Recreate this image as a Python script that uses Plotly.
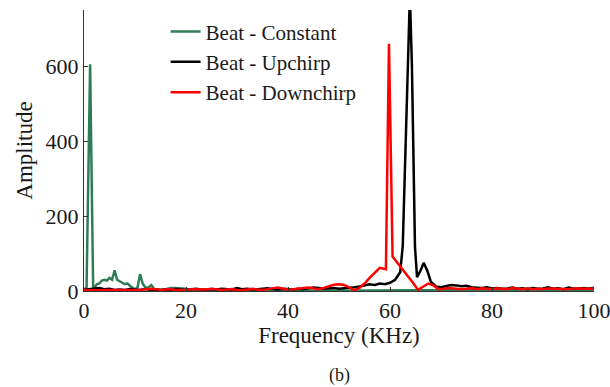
import plotly.graph_objects as go

# ---------------- data ----------------
# Beat - Constant (green)
const_freq = [0, 0.5, 1.2, 1.8, 2.5, 3.0, 3.5, 4.0, 4.5, 5.0, 5.5, 6.0, 6.5, 7.0, 7.5, 8.0,
              8.5, 9.0, 9.5, 10.0, 10.5, 11.0, 11.5, 12.0, 12.5, 13.2, 13.8, 14.5, 15, 16, 17,
              18, 19, 20, 21, 22, 23, 24, 25, 26, 27, 28, 29, 30, 32, 34, 36, 38, 40, 42, 44,
              46, 48, 50, 52, 54, 56, 58, 60, 62, 64, 66, 68, 70, 72, 74, 76, 78, 80, 82, 84,
              86, 88, 90, 92, 94, 96, 98, 100]
const_amp = [5, 8, 605, 4, 18, 20, 28, 30, 28, 35, 30, 55, 30, 25, 22, 18,
             20, 14, 8, 4, 10, 45, 20, 10, 8, 16, 5, 3, 3, 5, 8,
             8, 8, 6, 3, 2, 3, 4, 2, 3, 2, 3, 2, 3, 2, 3, 2, 3, 2, 2, 2,
             1, 1, 1, 1, 1, 1, 1, 1, 1, 1, 1, 2, 2, 3, 4, 3, 2, 2, 2, 2,
             2, 2, 2, 2, 2, 2, 2, 2]

# Beat - Upchirp (black)
up_freq = [0, 1, 2, 3, 4, 5, 6, 7, 8, 9, 10, 11, 12, 13, 14, 15, 16, 17, 18, 19, 20,
           21, 22, 23, 24, 25, 26, 27, 28, 29, 30, 31, 32, 33, 34, 35, 36, 37, 38, 39, 40,
           41, 42, 43, 44, 45, 46, 47, 48, 49, 50, 51, 52, 53, 54, 55, 56, 57, 58, 59, 60,
           61, 62, 62.5, 63.2, 63.9, 64.3, 64.9, 65.3, 66.0, 66.6, 67.3, 68, 69, 70,
           71, 72, 73, 74, 75, 76, 77, 78, 79, 80, 81, 82, 83, 84, 85, 86, 87, 88, 89, 90,
           91, 92, 93, 94, 95, 96, 97, 98, 99, 100]
up_amp = [3, 4, 6, 8, 5, 6, 3, 4, 3, 5, 4, 3, 5, 3, 4, 3, 4, 3, 5, 4, 3,
          5, 6, 4, 3, 5, 4, 6, 5, 4, 8, 5, 6, 4, 5, 6, 7, 5, 4, 6, 5,
          4, 6, 5, 7, 9, 8, 6, 7, 8, 6, 7, 8, 10, 12, 15, 18, 16, 20, 18, 22,
          30, 50, 120, 450, 790, 600, 117, 37, 55, 75, 55, 25, 12, 10,
          14, 16, 15, 13, 14, 10, 9, 8, 10, 7, 8, 6, 7, 9, 6, 7, 5, 8, 6, 7,
          10, 6, 7, 5, 9, 6, 7, 8, 6, 9]

# Beat - Downchirp (red)
down_freq = [0, 1, 2, 3, 4, 5, 6, 7, 8, 9, 10, 11, 12, 13, 14, 15, 16, 17, 18, 19, 20,
             21, 22, 23, 24, 25, 26, 27, 28, 29, 30, 31, 32, 33, 34, 35, 36, 37, 38, 39, 40,
             41, 42, 43, 44, 45, 46, 47, 48, 49, 50, 51, 52, 53, 54, 55, 56, 57, 58, 59.2,
             59.8, 60.5, 61.5, 62.5, 63.5, 64.5, 65.5, 66.5, 67.5, 68.5, 69.5, 70.5, 71.5,
             72.5, 74, 75, 76, 77, 78, 79, 80, 81, 82, 83, 84, 85, 86, 87, 88, 89, 90,
             91, 92, 93, 94, 95, 96, 97, 98, 99, 100]
down_amp = [3, 2, 3, 2, 3, 3, 2, 3, 4, 3, 2, 3, 5, 6, 5, 3, 4, 5, 3, 2, 3,
            5, 4, 3, 4, 6, 5, 3, 4, 5, 3, 2, 4, 6, 4, 3, 5, 7, 9, 6, 4,
            5, 7, 8, 9, 7, 5, 8, 12, 17, 18, 16, 10, 2, 8, 20, 35, 48, 62, 58,
            660, 92, 75, 58, 40, 22, 3, 12, 20, 15, 5, 6, 8,
            7, 5, 6, 8, 5, 7, 6, 5, 7, 6, 5, 8, 6, 5, 7, 5, 6, 5,
            7, 6, 5, 6, 5, 7, 6, 5, 6, 7]

series_names = ["Beat - Constant", "Beat - Upchirp", "Beat - Downchirp"]
series_colors = ["#2e7d57", "#000000", "#ff0000"]

x_ticks = [0, 20, 40, 60, 80, 100]
y_ticks = [0, 200, 400, 600]

# ---------------- figure ----------------
FONT = "Liberation Serif, Times New Roman, serif"

fig = go.Figure()
for fx, fy, name, col in zip([const_freq, up_freq, down_freq],
                             [const_amp, up_amp, down_amp],
                             series_names, series_colors):
    fig.add_trace(go.Scatter(x=fx, y=fy, mode="lines", name=name,
                             line=dict(color=col, width=2.5)))

fig.update_layout(
    width=610, height=387,
    margin=dict(l=84, r=16, t=10, b=96),
    paper_bgcolor="white", plot_bgcolor="white",
    font=dict(family=FONT, size=22, color="#1a1a1a"),
    showlegend=True,
    legend=dict(x=0.16, y=0.995, xanchor="left", yanchor="top",
                bgcolor="rgba(0,0,0,0)", font=dict(family=FONT, size=21, color="#1a1a1a"),
                tracegroupgap=0, itemwidth=30),
    xaxis=dict(range=[0, 100], tickvals=x_ticks, showline=True, linecolor="#333",
               linewidth=1, ticks="inside", ticklen=4, tickcolor="#333",
               showgrid=False, zeroline=False, automargin=False,
               ticklabeloverflow="allow",
               title=dict(text="Frequency (KHz)", font=dict(size=23), standoff=2)),
    yaxis=dict(range=[0, 750], tickvals=y_ticks, showline=True, linecolor="#333",
               linewidth=1, ticks="inside", ticklen=4, tickcolor="#333",
               showgrid=False, zeroline=False, automargin=False,
               title=dict(text="Amplitude", font=dict(size=23), standoff=6)),
    annotations=[dict(text="(b)", x=0.5, y=-0.30, xref="paper", yref="paper",
                      xanchor="center", yanchor="middle", showarrow=False,
                      font=dict(family=FONT, size=18, color="#1a1a1a"))],
)

fig.write_html("out.html")
